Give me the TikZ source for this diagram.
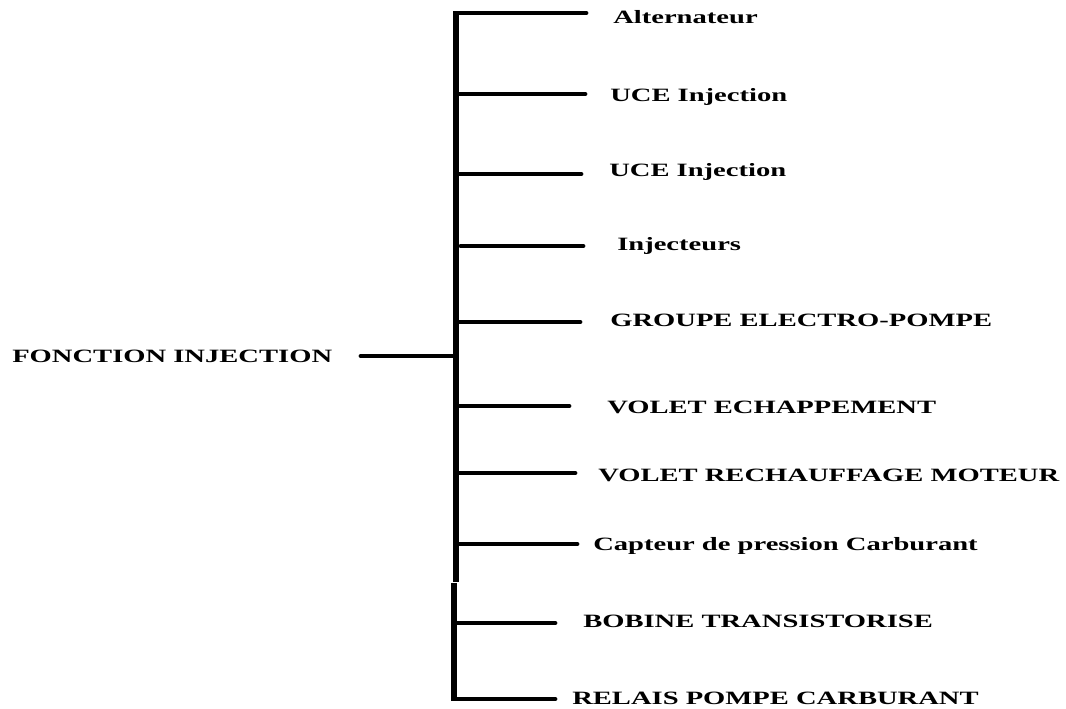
\documentclass[tikz,border=0pt]{standalone}
\usepackage{fontspec}
\setmainfont{Liberation Serif}[FakeStretch=1.52]
\usepackage{tikz}
\usetikzlibrary{positioning}

\begin{document}
\begin{tikzpicture}[x=0.75pt, y=-0.75pt,
    every node/.style={font=\fontsize{14.1}{16}\selectfont\bfseries, inner sep=0pt, anchor=base west},
    trunkline/.style={line width=5pt, black},
    branchline/.style={line width=3.6pt, black, line cap=round}]
    \useasboundingbox (0,0) rectangle (1066,708);

    % vertical trunk
    \coordinate (ttop) at (456,11);
    \coordinate (tmid) at (456,582);
    \coordinate (tmidb) at (454,583);
    \coordinate (tbot) at (454,701);
    \draw[trunkline] (ttop) -- (tmid);
    \draw[trunkline] (tmidb) -- (tbot);

    % main function on the left
    \node (fonction) at (12,362) {FONCTION INJECTION};
    \coordinate (fonctionend) at (361,356);
    \coordinate (fonctionjoin) at (454,356);
    \draw[branchline] (fonctionend) -- (fonctionjoin);

    % components on the right
    \node (alternateur) at (613,23) {Alternateur};
    \node (uceA) at (610,101) {UCE Injection};
    \node (uceB) at (609,176) {UCE Injection};
    \node (injecteurs) at (617,250) {Injecteurs};
    \node (groupe) at (610,326) {GROUPE ELECTRO-POMPE};
    \node (echappement) at (607,413) {VOLET ECHAPPEMENT};
    \node (rechauffage) at (598,481) {VOLET RECHAUFFAGE MOTEUR};
    \node (capteur) at (593,550) {Capteur de pression Carburant};
    \node (bobine) at (583,627) {BOBINE TRANSISTORISE};
    \node (relais) at (572,704) {RELAIS POMPE CARBURANT};

    \coordinate (jalternateur) at (458,13);   \coordinate (ealternateur) at (586,13);
    \coordinate (juceA) at (458,94);          \coordinate (euceA) at (585,94);
    \coordinate (juceB) at (458,174);         \coordinate (euceB) at (581,174);
    \coordinate (jinjecteurs) at (461,246);   \coordinate (einjecteurs) at (583,246);
    \coordinate (jgroupe) at (458,322);       \coordinate (egroupe) at (580,322);
    \coordinate (jechappement) at (458,406);  \coordinate (eechappement) at (569,406);
    \coordinate (jrechauffage) at (458,473);  \coordinate (erechauffage) at (575,473);
    \coordinate (jcapteur) at (458,544);      \coordinate (ecapteur) at (577,544);
    \coordinate (jbobine) at (456,623);       \coordinate (ebobine) at (555,623);
    \coordinate (jrelais) at (454,699);       \coordinate (erelais) at (555,699);

    \draw[branchline] (jalternateur) -- (ealternateur);
    \draw[branchline] (juceA) -- (euceA);
    \draw[branchline] (juceB) -- (euceB);
    \draw[branchline] (jinjecteurs) -- (einjecteurs);
    \draw[branchline] (jgroupe) -- (egroupe);
    \draw[branchline] (jechappement) -- (eechappement);
    \draw[branchline] (jrechauffage) -- (erechauffage);
    \draw[branchline] (jcapteur) -- (ecapteur);
    \draw[branchline] (jbobine) -- (ebobine);
    \draw[branchline] (jrelais) -- (erelais);
\end{tikzpicture}
\end{document}
